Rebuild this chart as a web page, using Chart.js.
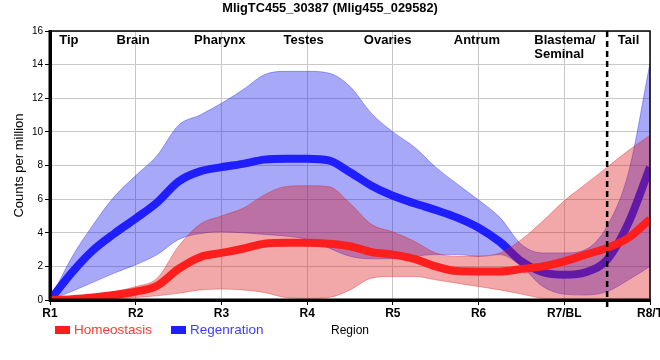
<!DOCTYPE html>
<html><head><meta charset="utf-8">
<script src="https://cdn.jsdelivr.net/npm/chart.js@4.4.1/dist/chart.umd.min.js"></script>
<style>html,body{margin:0;padding:0;background:#fff;overflow:hidden}</style>
</head><body>
<canvas id="c" width="660" height="360" style="width:660px;height:360px;display:block"></canvas>
<script>
const chartTitle = 'MligTC455_30387 (Mlig455_029582)';
const xValues = [1,1.25,1.5,1.75,2,2.25,2.5,2.75,3,3.25,3.5,3.75,4,4.25,4.5,4.75,5,5.25,5.5,5.75,6,6.25,6.5,6.75,7,7.25,7.5,7.75,8];
const tickLabels = ['R1','R2','R3','R4','R5','R6','R7/BL','R8/T'];
const regionNames = ['Tip','Brain','Pharynx','Testes','Ovaries','Antrum','Blastema/\nSeminal','Tail'];
const regionNameX = [1.22,1.97,2.98,3.96,4.94,5.98,6.65,7.75];
const dividerX = 7.5;

const homeoMean  = [0,0.05,0.15,0.3,0.5,0.85,1.85,2.55,2.8,3.05,3.35,3.4,3.4,3.35,3.2,2.85,2.7,2.45,2.0,1.72,1.7,1.7,1.85,2.0,2.3,2.7,3.1,3.7,4.8];
const homeoUpper = [0,0.1,0.3,0.5,0.8,1.3,3.2,4.5,5.0,5.45,6.25,6.75,6.8,6.75,5.75,4.5,4.05,3.5,2.8,2.6,2.6,2.8,3.6,4.7,5.9,6.9,7.9,8.9,9.8];
const homeoLower = [0,0,0.02,0.05,0.15,0.25,0.4,0.6,0.65,0.6,0.45,0.15,0.1,0.15,0.6,1.3,1.4,1.4,1.2,1.0,0.8,0.6,0.35,0.1,0.05,0.05,0.05,0.05,0.1];
const regenMean  = [0,1.6,2.95,3.95,4.85,5.8,7.05,7.65,7.9,8.1,8.35,8.4,8.4,8.3,7.6,6.8,6.2,5.75,5.35,4.9,4.3,3.45,2.3,1.65,1.5,1.65,2.4,4.6,7.9];
const regenUpper = [0,2.5,4.45,6.15,7.4,8.6,10.4,11.0,11.7,12.5,13.4,13.6,13.6,13.5,12.7,11.1,10.0,9.1,7.9,6.9,5.95,4.9,3.3,2.8,2.8,3.0,4.4,7.6,14.1];
const regenLower = [0,0.5,1.05,1.6,2.1,2.7,3.6,3.95,4.05,4.0,3.9,3.8,3.6,3.1,2.6,2.45,2.45,2.6,2.7,2.7,2.6,2.7,2.0,0.8,0.35,0.3,0.5,1.2,2.0];

const FONT = '"Liberation Sans", Arial, sans-serif';
const pts = arr => arr.map((v,i)=>({x:xValues[i], y:v}));

const RED_LINE = 'rgb(255,30,30)';
const BLUE_LINE = 'rgb(30,30,255)';
const RED_FILL = 'rgba(220,20,20,0.37)';
const BLUE_FILL = 'rgba(20,20,240,0.37)';
const RED_EDGE = 'rgba(220,20,20,0.35)';
const BLUE_EDGE = 'rgba(20,20,240,0.35)';

const line = (label, data, color, order) => ({label, data: pts(data), borderColor: color, borderWidth: 8, pointRadius: 0, fill: false, cubicInterpolationMode: 'monotone', order, borderCapStyle: 'butt'});
const band = (label, data, edge, fill, fillTarget, order) => ({label, data: pts(data), borderColor: edge, borderWidth: 1, pointRadius: 0, backgroundColor: fill, fill: fillTarget, cubicInterpolationMode: 'monotone', order});

const overlay = {
  id: 'overlay',
  afterDatasetsDraw(chart) {
    const {ctx, chartArea: a, scales: {x}} = chart;
    ctx.save();
    ctx.strokeStyle = '#000';
    ctx.lineWidth = 1.5;
    ctx.beginPath(); ctx.moveTo(a.left, a.top); ctx.lineTo(a.right, a.top); ctx.lineTo(a.right, a.bottom); ctx.stroke();
    ctx.lineWidth = 3;
    ctx.beginPath(); ctx.moveTo(a.left, a.top - 1); ctx.lineTo(a.left, a.bottom); ctx.lineTo(a.right, a.bottom); ctx.stroke();
    const dx = x.getPixelForValue(dividerX);
    ctx.setLineDash([6, 4]); ctx.lineWidth = 2.5;
    ctx.beginPath(); ctx.moveTo(dx, a.top); ctx.lineTo(dx, a.bottom + 7); ctx.stroke();
    ctx.setLineDash([]);
    ctx.fillStyle = '#000';
    ctx.font = 'bold 13px ' + FONT;
    ctx.textBaseline = 'middle';
    regionNames.forEach((n, i) => {
      const parts = n.split('\n');
      ctx.textAlign = parts.length > 1 ? 'left' : 'center';
      const px = x.getPixelForValue(regionNameX[i]);
      parts.forEach((p, j) => ctx.fillText(p, px, a.top + 9 + j * 14));
    });
    ctx.textAlign = 'center';
    ctx.font = 'bold 12.8px ' + FONT;
    ctx.fillText(chartTitle, chart.width / 2, 8);
    // legend
    const items = [{t: 'Homeostasis', sw: RED_LINE, tc: 'rgb(255,55,55)', x: 55}, {t: 'Regenration', sw: BLUE_LINE, tc: 'rgb(60,60,255)', x: 171}];
    ctx.textAlign = 'left';
    ctx.font = '13.5px ' + FONT;
    items.forEach(it => {
      ctx.fillStyle = it.sw; ctx.fillRect(it.x, 326, 15, 8);
      ctx.fillStyle = it.tc; ctx.fillText(it.t, it.x + 19, 330);
    });
    ctx.restore();
  }
};

new Chart(document.getElementById('c'), {
  type: 'line',
  data: {
    datasets: [
      line('Homeostasis', homeoMean, RED_LINE, 0),
      band('Homeostasis upper', homeoUpper, RED_EDGE, RED_FILL, '+1', 1),
      band('Homeostasis lower', homeoLower, RED_EDGE, RED_FILL, false, 1),
      line('Regenration', regenMean, BLUE_LINE, 2),
      band('Regenration upper', regenUpper, BLUE_EDGE, BLUE_FILL, '+1', 3),
      band('Regenration lower', regenLower, BLUE_EDGE, BLUE_FILL, false, 3)
    ]
  },
  options: {
    responsive: false,
    animation: false,
    devicePixelRatio: 1,
    layout: {padding: {top: 31, left: 10, right: 10, bottom: 20}},
    plugins: {legend: {display: false}, title: {display: false}, tooltip: {enabled: false}},
    scales: {
      x: {
        type: 'linear', min: 1, max: 8,
        afterFit(s) { s.height = 40; s.paddingLeft = 0; s.paddingRight = 0; },
        ticks: {stepSize: 1, color: '#000', padding: 1, font: {family: FONT, size: 12, weight: 'bold'}, callback: v => tickLabels[v - 1], maxRotation: 0, autoSkip: false},
        grid: {color: '#c8c8c8', tickColor: '#000', tickLength: 5, lineWidth: 1},
        border: {display: true, color: '#000', width: 3},
        title: {display: true, text: 'Region', color: '#000', font: {family: FONT, size: 12}, padding: {top: 0, bottom: 2}}
      },
      y: {
        min: 0, max: 16,
        afterFit(s) { s.width = 40; },
        ticks: {stepSize: 2, color: '#000', padding: 2, font: {family: FONT, size: 10}},
        grid: {color: '#c8c8c8', tickColor: '#000', tickLength: 5, lineWidth: 1},
        border: {display: true, color: '#000', width: 3},
        title: {display: true, text: 'Counts per million', color: '#000', font: {family: FONT, size: 13}, padding: {top: 2, bottom: 0}}
      }
    }
  },
  plugins: [overlay]
});
</script>
</body></html>
